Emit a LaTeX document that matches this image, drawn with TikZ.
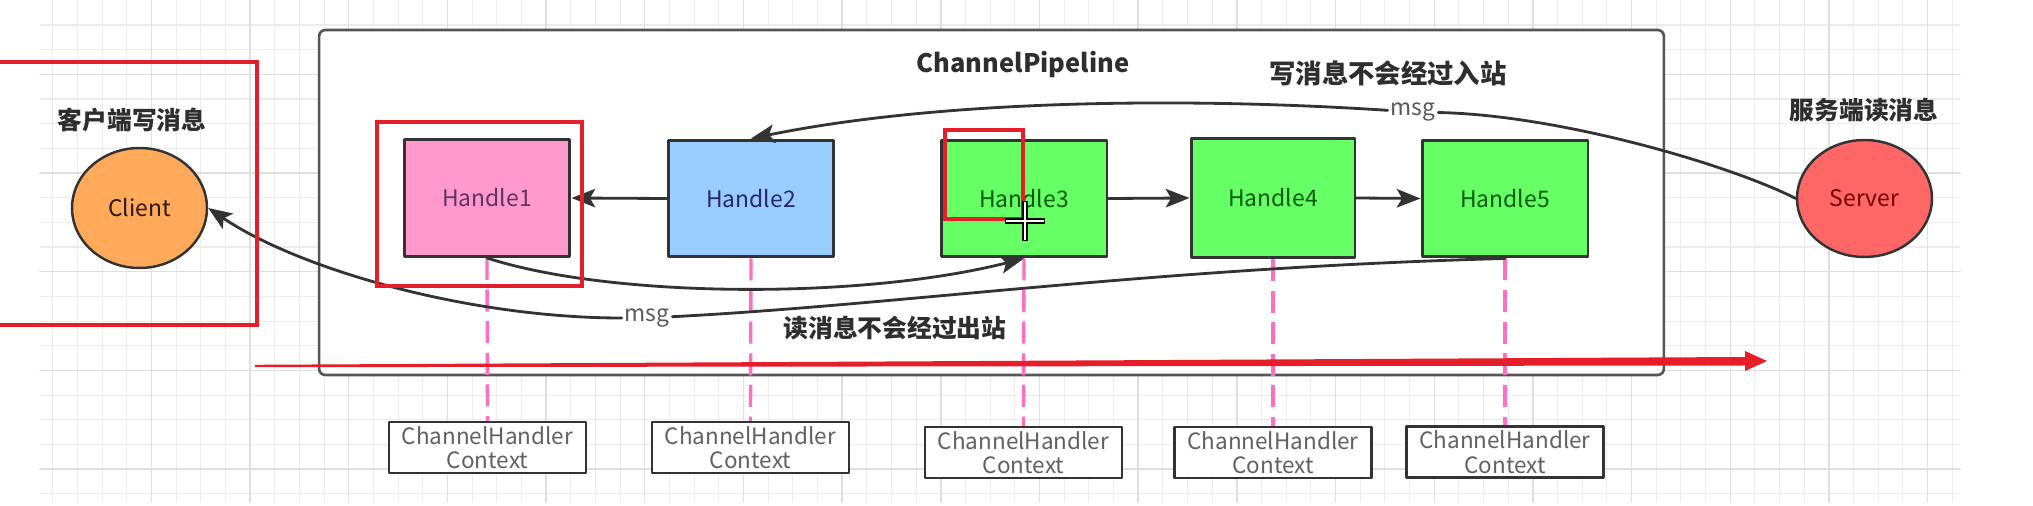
\documentclass[tikz,border=0pt]{standalone}
\usepackage{fontspec}
\setmainfont{Noto Sans CJK SC}
\usetikzlibrary{arrows.meta,shapes.geometric}

\definecolor{edge}{HTML}{333333}
\definecolor{framegray}{HTML}{555555}
\definecolor{gridlo}{HTML}{ECECEC}
\definecolor{gridhi}{HTML}{DFDFDF}
\definecolor{pinkfill}{HTML}{FF99CC}
\definecolor{bluefill}{HTML}{99CCFF}
\definecolor{greenfill}{HTML}{66FF66}
\definecolor{orangefill}{HTML}{FFAA5A}
\definecolor{redfill}{HTML}{FF6666}
\definecolor{annored}{HTML}{E61E2A}
\definecolor{linkpink}{HTML}{FF6EC0}

\begin{document}
\begin{tikzpicture}[x=0.02cm,y=-0.02cm,>={Stealth[length=13.5pt,width=10.5pt,inset=3pt]},line join=round,line cap=round,
  handle/.style={draw=edge,line width=1.7pt,minimum width=3.32cm,minimum height=2.34cm,inner sep=0pt,font=\fontsize{13}{15}\selectfont},
  endpt/.style={ellipse,draw=edge,line width=1.4pt,minimum width=2.7cm,inner sep=0pt,font=\fontsize{13}{15}\selectfont},
  ctxbox/.style={draw=edge,line width=1.4pt,fill=white,minimum width=3.94cm,minimum height=1.02cm,inner sep=0pt,align=center,text=black!62,font=\fontsize{12.8}{14}\selectfont},
  title/.style={text=black!82,font=\bfseries\fontsize{14.1}{16}\selectfont},
  msglbl/.style={inner sep=1.5pt,text=black!65,font=\fontsize{13}{15}\selectfont},
  flow/.style={->,draw=edge,line width=1.6pt},
  ctxlink/.style={draw=linkpink,line width=1.9pt,line cap=butt,dash pattern=on 12.5pt off 5.5pt},
  annot/.style={draw=annored,line width=2.3pt,line cap=butt,line join=miter}]
  \useasboundingbox[fill=white] (0,0) rectangle (2033,506);
  \foreach \i in {0,...,77} \draw[gridlo,line width=0.6pt] ({52.7+24.67*\i},0) -- ({52.7+24.67*\i},502);
  \foreach \j in {0,...,19} \draw[gridlo,line width=0.6pt] (40,{25+24.67*\j}) -- (1960,{25+24.67*\j});
  \foreach \i in {4,8,...,76} \draw[gridhi,line width=0.8pt] ({52.7+24.67*\i},0) -- ({52.7+24.67*\i},502);
  \foreach \j in {2,6,...,18} \draw[gridhi,line width=0.8pt] (40,{25+24.67*\j}) -- (1960,{25+24.67*\j});

  \node[draw=framegray,line width=1.5pt,rounded corners=3.5pt,fill=white,minimum width=26.9cm,minimum height=6.9cm,inner sep=0pt] (pipe) at (991.5,202.5) {};

  \node[title] (clienttitle) at (132,120) {客户端写消息};
  \node[title] (servertitle) at (1864,110) {服务端读消息};
  \node[title,font=\bfseries\fontsize{14.5}{16}\selectfont] (pipetitle) at (1023,65) {ChannelPipeline};
  \node[title,font=\bfseries\fontsize{15}{17}\selectfont] (writenote) at (1388,73) {写消息不会经过入站};
  \node[title] (readnote) at (895,328) {读消息不会经过出站};

  \node[endpt,fill=orangefill,text=black!70!orange!60!black,minimum height=2.4cm] (client) at (139.5,208) {Client};
  \node[endpt,fill=redfill,text=red!45!black,minimum height=2.34cm] (server) at (1864.5,198.5) {Server};

  \node[handle,fill=pinkfill,text=violet!45!black!80] (h1) at (487,198) {Handle1};
  \node[handle,fill=bluefill,text=blue!35!black!85] (h2) at (751,198.5) {Handle2};
  \node[handle,fill=greenfill,text=green!35!black] (h3) at (1024,198.5) {Handle3};
  \node[handle,fill=greenfill,text=green!35!black,minimum width=3.28cm,minimum height=2.38cm] (h4) at (1273,198) {Handle4};
  \node[handle,fill=greenfill,text=green!35!black] (h5) at (1505,198.5) {Handle5};

  \node[ctxbox] (ctx1) at (487.5,447.5) {ChannelHandler\\Context};
  \node[ctxbox] (ctx2) at (750.5,447.5) {ChannelHandler\\Context};
  \node[ctxbox] (ctx3) at (1023.5,452.5) {ChannelHandler\\Context};
  \node[ctxbox] (ctx4) at (1273,452.5) {ChannelHandler\\Context};
  \node[ctxbox] (ctx5) at (1505,452) {ChannelHandler\\Context};

  \node[msglbl] (msgtop) at (1413,112) {msg};
  \node[msglbl] (msgbot) at (647,318) {msg};

  \foreach \n in {1,...,5} \draw[ctxlink] (h\n.south) -- (ctx\n.north);

  \draw[flow] (h2.west) -- (h1.east);
  \draw[flow] (h3.east) -- (h4.west);
  \draw[flow] (h4.east) -- (h5.west);
  \draw[flow] (server.west) .. controls (1730,165) and (1560,115) .. (msgtop) .. controls (1200,98) and (950,98) .. (h2.north);
  \draw[flow] (h1.south) .. controls (610,298) and (860,300) .. (h3.south);
  \draw[flow] (h5.south) .. controls (1150,268) and (900,305) .. (msgbot) .. controls (470,318) and (300,270) .. (client.east);

  \fill[annored] (255,364.8) -- (1745,357) -- (1745,351) -- (1767,361) -- (1745,371) -- (1745,365.5) -- (255,367.2) -- cycle;
  \draw[annot] (0,62) -- (257,62) -- (257,325) -- (0,325);
  \draw[annot] (377,122) rectangle (582,286);
  \draw[annot] (945,130) rectangle (1023,219);
  \draw[black,line width=3.2pt,line cap=butt] (1005,221) -- (1045,221) (1025,201) -- (1025,241);
  \draw[white,line width=1.5pt,line cap=butt] (1006,221) -- (1044,221) (1025,202) -- (1025,240);
\end{tikzpicture}
\end{document}
